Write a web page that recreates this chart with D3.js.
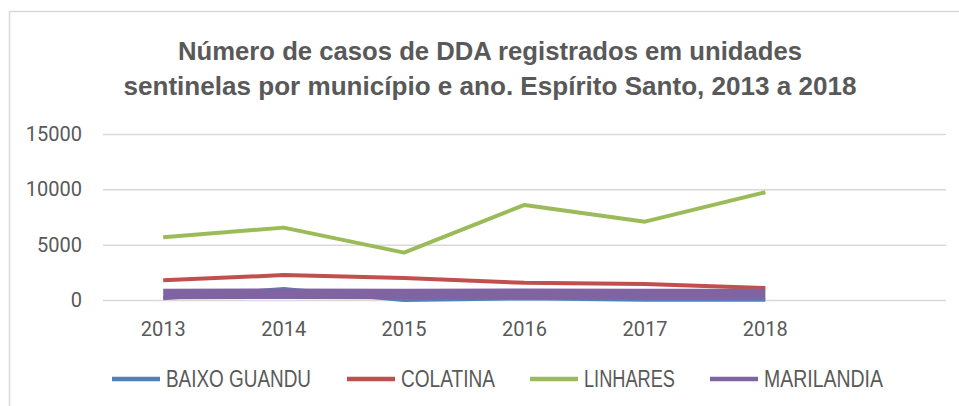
<!DOCTYPE html>
<html>
<head>
<meta charset="utf-8">
<script src="https://cdn.jsdelivr.net/npm/d3@7.9.0/dist/d3.min.js"></script>
<style>
  body { margin: 0; background: #fff; }
  svg { display: block; }
  .narrow { font-family: "Liberation Sans", Arial, sans-serif; }
</style>
</head>
<body>
<svg id="chart" width="959" height="406"></svg>
<script>
const years = ['2013', '2014', '2015', '2016', '2017', '2018', ''];
const yTicks = [0, 5000, 10000, 15000];

const baixoGuandu = [150, 1000, 0, 150, 30, 30];
const colatina = [1780, 2250, 1990, 1550, 1450, 1090];
const linhares = [5670, 6540, 4280, 8590, 7080, 9740];
const marilandia = [540, 560, 550, 560, 550, 540];

const seriesNames = ['BAIXO GUANDU', 'COLATINA', 'LINHARES', 'MARILANDIA'];
const seriesValues = [baixoGuandu, colatina, linhares, marilandia];
const colors = ['#4f81bd', '#c0504d', '#9bbb59', '#8064a2'];
const widths = [4, 4, 4, 10.5];

const svg = d3.select('#chart');
const gray = '#595959';

// chart frame
svg.append('rect')
  .attr('x', 9.5).attr('y', 11.5)
  .attr('width', 980).attr('height', 420)
  .attr('fill', 'none')
  .attr('stroke', '#d9d9d9')
  .attr('stroke-width', 1.5);

// title (condensed font squeezed with textLength)
const titleLines = [
  ['Número de casos de DDA registrados em unidades', 60, 624],
  ['sentinelas por município e ano. Espírito Santo, 2013 a 2018', 95, 733]
];
titleLines.forEach(([txt, ty, len]) => {
  svg.append('text')
    .attr('class', 'narrow')
    .attr('x', 490).attr('y', ty)
    .attr('text-anchor', 'middle')
    .attr('font-weight', 'bold')
    .attr('font-size', 26)
    .attr('fill', gray)
    .attr('textLength', len)
    .attr('lengthAdjust', 'spacingAndGlyphs')
    .text(txt);
});

const left = 103, right = 946;
const x = d3.scaleBand().domain(years).range([left, right]);
const y = d3.scaleLinear().domain([0, 15000]).range([300, 134]);

// y axis with gridlines
const yAxis = svg.append('g')
  .attr('transform', `translate(${left},0)`)
  .call(d3.axisLeft(y).tickValues(yTicks).tickFormat(d3.format('d'))
    .tickSize(-(right - left)).tickPadding(21));
yAxis.select('.domain').remove();
yAxis.selectAll('line').attr('stroke', '#d9d9d9').attr('stroke-width', 1.5);
yAxis.selectAll('text')
  .attr('fill', gray)
  .attr('font-family', 'Roboto, sans-serif')
  .attr('font-size', 20);

// x axis
const xAxis = svg.append('g')
  .attr('transform', 'translate(0,300)')
  .call(d3.axisBottom(x).tickSize(0).tickPadding(22));
xAxis.select('.domain').remove();
xAxis.selectAll('text')
  .attr('fill', gray)
  .attr('font-family', 'Roboto, sans-serif')
  .attr('font-size', 20);

// lines
const line = d3.line()
  .x((d, i) => x(years[i]) + x.bandwidth() / 2)
  .y(d => y(d));

seriesValues.forEach((vals, idx) => {
  svg.append('path')
    .datum(vals)
    .attr('d', line)
    .attr('fill', 'none')
    .attr('stroke', colors[idx])
    .attr('stroke-width', widths[idx])
    .attr('stroke-linejoin', 'round');
});

// legend
const legendX = [112, 347, 530, 710];
const legendTextW = [145, 94, 91, 119];
const ly = 379;
seriesNames.forEach((name, idx) => {
  svg.append('line')
    .attr('x1', legendX[idx]).attr('x2', legendX[idx] + 48)
    .attr('y1', ly).attr('y2', ly)
    .attr('stroke', colors[idx])
    .attr('stroke-width', 4.5);
  svg.append('text')
    .attr('class', 'narrow')
    .attr('x', legendX[idx] + 54)
    .attr('y', ly + 8)
    .attr('font-size', 23)
    .attr('fill', gray)
    .attr('textLength', legendTextW[idx])
    .attr('lengthAdjust', 'spacingAndGlyphs')
    .text(name);
});
</script>
</body>
</html>
